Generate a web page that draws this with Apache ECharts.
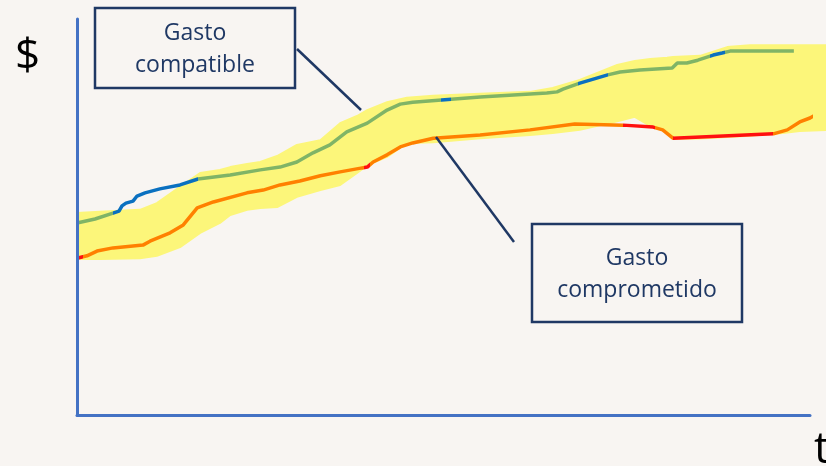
<!DOCTYPE html>
<html>
<head>
<meta charset="utf-8">
<script src="https://cdn.jsdelivr.net/npm/echarts@6/dist/echarts.min.js"></script>
<style>
html,body{margin:0;padding:0;background:#f8f5f2;}
#c{width:826px;height:466px;}
</style>
</head>
<body>
<div id="c"></div>
<script>
// Gasto compatible (time t, amount $)
const greenT = [0,2.46,4.91,5.73,6.14,6.68,7.64,8.19,9.28,11.3,14.05,16.5,20.9,25.0,27.7,30.0,32.2,34.5,36.8,39.6,42.3,44.1,45.8,55.0,64.1,65.5,66.3,68.6,72.4,74.1,76.8,81.2,81.9,83.2,84.7,86.8,88.0,89.1,93.2,97.8];
const greenV = [48.5,49.5,51.0,51.5,52.8,53.5,54.0,55.3,56.1,57.1,58.1,59.6,60.6,61.9,62.6,63.9,66.2,68.2,71.5,73.7,77.0,78.5,79.0,80.3,81.3,81.6,82.3,83.8,85.9,86.6,87.1,87.6,88.9,88.9,89.6,90.9,91.4,91.9,91.9,91.9];
// Gasto comprometido
const orangeT = [0,1.36,2.73,4.91,9.0,9.96,12.7,14.5,16.4,18.6,23.2,25.4,27.7,30.4,33.2,35.9,38.9,39.6,40.4,42.3,44.1,45.8,48.6,55.0,61.8,67.9,74.5,78.6,79.9,81.3,95.0,96.9,98.6,100,101.4,102.2];
const orangeV = [39.6,40.2,41.4,42.2,42.9,43.9,46.0,48.0,52.3,53.8,56.1,56.8,58.1,59.1,60.4,61.4,62.4,62.6,63.9,65.7,67.7,68.7,69.9,70.7,72.0,73.5,73.2,72.7,72.0,69.9,71.0,72.0,74.0,75.0,76.5,76.8];
// highlighted band (lower / upper edge)
const bandT = [0,3.14,8.59,10.9,14.05,16.8,19.5,20.9,23.2,25.0,27.3,30.0,33.2,35.9,38.2,39.6,42.3,45.0,48.6,55.0,61.8,64.9,68.6,73.7,76.1,78.2,80.5,81.3,85.0,88.7,91.8,96.3,98.6,102.2];
const bandLower = [39.4,39.4,39.6,40.2,42.4,46.0,48.5,50.5,51.8,52.3,52.5,55.1,56.8,58.1,61.1,63.1,65.2,68.7,68.9,69.9,70.7,71.2,72.0,74.2,75.3,73.0,71.7,69.7,69.8,70.2,70.5,71.2,71.7,72.0];
const bandUpper = [51.0,51.3,51.8,53.5,57.6,61.1,61.9,62.6,63.4,63.9,65.4,68.2,69.4,73.7,75.5,77.0,79.0,80.1,80.6,81.1,81.6,82.6,84.6,88.4,89.4,89.9,90.2,90.4,90.7,92.9,93.4,93.4,93.4,93.4];
// coloured segments along the lines (t ranges)
const blueRanges = [[4.9,16.5],[49.6,51.0],[68.3,72.4],[86.4,88.4]];
const redRanges = [[-5,0.8],[39.2,40.0],[74.5,78.8],[81.3,95.0]];

const GREEN='#80b466', BLUE='#0a70c0', ORANGE='#ff8000', RED='#ff1010', YELLOW='#fcf67a', NAVY='#1f3864';

function pieces(ranges, base, alt){
  const p=[]; let prev=null;
  ranges.forEach(r=>{
    if(prev===null) p.push({lt:r[0],color:base}); else p.push({gte:prev,lt:r[0],color:base});
    p.push({gte:r[0],lt:r[1],color:alt});
    prev=r[1];
  });
  p.push({gte:prev,color:base});
  return p;
}
const zip=(a,b)=>a.map((v,i)=>[v,b[i]]);
const axisCommon={type:'value',min:0,max:100,z:5,axisLine:{show:true,lineStyle:{color:'#4472c4',width:3}},axisTick:{show:false},axisLabel:{show:false},splitLine:{show:false}};

const chart = echarts.init(document.getElementById('c'));
chart.setOption({
  backgroundColor:'#f8f5f2',
  animation:false,
  grid:{left:77,right:16,top:19,bottom:51},
  xAxis:axisCommon,
  yAxis:axisCommon,
  visualMap:[
    {type:'piecewise',show:false,seriesIndex:1,dimension:0,pieces:pieces(blueRanges,GREEN,BLUE)},
    {type:'piecewise',show:false,seriesIndex:2,dimension:0,pieces:pieces(redRanges,ORANGE,RED)}
  ],
  series:[
    {type:'custom',data:[[0,0]],clip:false,z:1,silent:true,
     renderItem:function(params,api){
       const pts=[];
       for(let i=0;i<bandT.length;i++) pts.push(api.coord([bandT[i],bandUpper[i]]));
       for(let i=bandT.length-1;i>=0;i--) pts.push(api.coord([bandT[i],bandLower[i]]));
       return {type:'polygon',shape:{points:pts},style:{fill:YELLOW,stroke:YELLOW,lineWidth:2,lineJoin:'round'}};
     }},
    {type:'line',name:'Gasto compatible',data:zip(greenT,greenV),symbol:'none',lineStyle:{width:3.5},clip:false,z:3},
    {type:'line',name:'Gasto comprometido',data:zip(orangeT,orangeV),symbol:'none',lineStyle:{width:3.5},clip:false,z:3}
  ],
  graphic:[
    {type:'text',x:27.5,y:57,style:{text:'$',font:'44px "Open Sans"',fill:'#000',align:'center',verticalAlign:'middle'}},
    {type:'text',x:814,y:450,style:{text:'t',font:'44px "Open Sans"',fill:'#000',align:'left',verticalAlign:'middle'}},
    {type:'rect',shape:{x:95,y:8,width:200,height:80},style:{fill:'#f8f5f2',stroke:NAVY,lineWidth:2.5},z:10},
    {type:'text',x:195,y:33,style:{text:'Gasto',font:'23px "Open Sans"',fill:NAVY,align:'center',verticalAlign:'middle'},z:11},
    {type:'text',x:195,y:65,style:{text:'compatible',font:'23px "Open Sans"',fill:NAVY,align:'center',verticalAlign:'middle'},z:11},
    {type:'rect',shape:{x:532,y:224,width:210,height:98},style:{fill:'#f8f5f2',stroke:NAVY,lineWidth:2.5},z:10},
    {type:'text',x:637,y:258,style:{text:'Gasto',font:'23px "Open Sans"',fill:NAVY,align:'center',verticalAlign:'middle'},z:11},
    {type:'text',x:637,y:290,style:{text:'comprometido',font:'23px "Open Sans"',fill:NAVY,align:'center',verticalAlign:'middle'},z:11},
    {type:'line',shape:{x1:297,y1:49,x2:361,y2:110},style:{stroke:NAVY,lineWidth:2.5},z:10},
    {type:'line',shape:{x1:436,y1:137,x2:514,y2:242},style:{stroke:NAVY,lineWidth:2.5},z:10}
  ]
});
</script>
</body>
</html>
